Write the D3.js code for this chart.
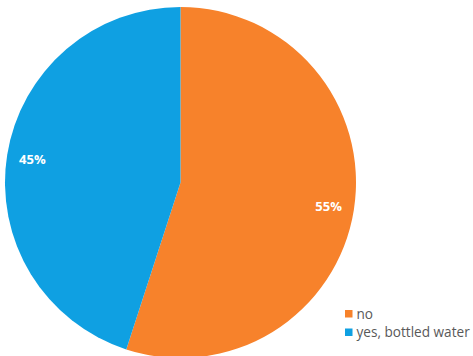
<!DOCTYPE html>
<html>
<head>
<meta charset="utf-8">
<script src="https://cdn.jsdelivr.net/npm/d3@7"></script>
<style>
  html, body { margin: 0; padding: 0; background: #fff; }
  svg { display: block; }
</style>
</head>
<body>
<svg id="chart" width="473" height="356"></svg>
<script>
// Answers to the drinking-water question
const categories = ["no", "yes, bottled water"];
const shares = [55, 45];
const colors = ["#F7822B", "#0FA0E2"];

const svg = d3.select("#chart");
const cx = 180.5, cy = 182.5, radius = 175.5;

const color = d3.scaleOrdinal().domain(categories).range(colors);

const pie = d3.pie().sort(null).value(d => d.value);
const data = pie(categories.map((c, i) => ({ name: c, value: shares[i] })));

const arc = d3.arc().innerRadius(0).outerRadius(radius);
const labelArc = d3.arc().innerRadius(150).outerRadius(150);

const g = svg.append("g").attr("transform", `translate(${cx},${cy})`);

g.selectAll("path.slice")
  .data(data)
  .join("path")
  .attr("class", "slice")
  .attr("d", arc)
  .attr("fill", d => color(d.data.name));

g.selectAll("text.pct")
  .data(data)
  .join("text")
  .attr("class", "pct")
  .attr("transform", d => `translate(${labelArc.centroid(d)})`)
  .attr("text-anchor", "middle")
  .attr("dy", "0.35em")
  .attr("fill", "#fff")
  .attr("font-family", "'Open Sans', sans-serif")
  .attr("font-weight", "bold")
  .attr("font-size", "13px")
  .text(d => d.data.value + "%");

// Legend
const legend = svg.append("g").attr("transform", "translate(345,310)");
const item = legend.selectAll("g.item")
  .data(categories)
  .join("g")
  .attr("class", "item")
  .attr("transform", (d, i) => `translate(0,${i * 18.5})`);

item.append("rect")
  .attr("width", 7.5)
  .attr("height", 7.5)
  .attr("fill", d => color(d));

item.append("text")
  .attr("x", 11.5)
  .attr("y", 4)
  .attr("dy", "0.35em")
  .attr("fill", "#595959")
  .attr("font-family", "'Open Sans', sans-serif")
  .attr("font-size", "13.6px")
  .text(d => d);
</script>
</body>
</html>
